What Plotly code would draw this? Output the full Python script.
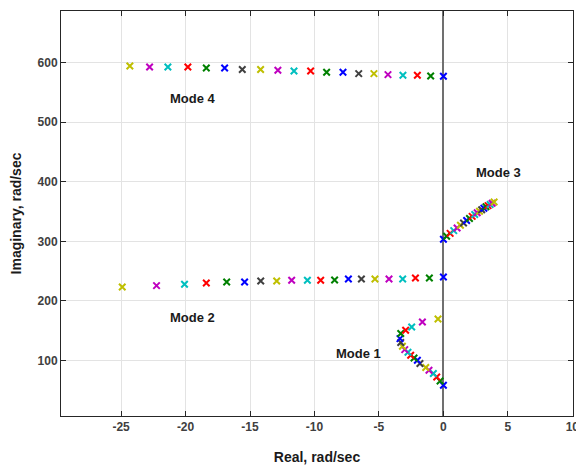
import plotly.graph_objects as go

# Mode data (index 0 = first sample, plotted with first colour)
mode1_re = [0.0, -0.26, -0.52, -0.78, -1.12, -1.37, -1.82, -2.02, -2.28, -2.54,
            -2.75, -3.00, -3.18, -3.31, -3.37, -3.31, -2.93, -2.46, -1.63, -0.42]
mode1_im = [58.6, 65.8, 72.5, 78.2, 83.7, 88.3, 95.0, 100.5, 104.4, 108.9,
            113.9, 118.4, 124.0, 130.2, 136.9, 145.3, 150.8, 156.4, 164.8, 169.8]

mode2_re = [0.0, -1.09, -2.17, -3.16, -4.22, -5.31, -6.36, -7.37, -8.44, -9.52,
            -10.55, -11.77, -12.93, -14.17, -15.42, -16.81, -18.39, -20.08, -22.25, -24.91]
mode2_im = [240.3, 238.6, 238.6, 236.9, 236.9, 236.9, 236.9, 236.9, 235.2, 234.7,
            234.7, 234.7, 233.6, 233.6, 231.9, 231.9, 230.2, 228.0, 225.8, 223.5]

mode3_re = [0.0, 0.25, 0.52, 0.80, 1.06, 1.32, 1.56, 1.80, 2.02, 2.23,
            2.43, 2.62, 2.80, 2.97, 3.14, 3.30, 3.46, 3.62, 3.78, 3.93]
mode3_im = [303.5, 308.5, 313.5, 318.0, 322.5, 327.0, 331.0, 335.0, 338.5, 342.0,
            345.0, 348.0, 350.5, 353.0, 355.5, 358.0, 360.0, 362.0, 364.0, 366.0]

mode4_re = [0.0, -0.99, -2.02, -3.14, -4.30, -5.39, -6.57, -7.79, -9.06, -10.30,
            -11.59, -12.84, -14.18, -15.60, -16.97, -18.39, -19.82, -21.37, -22.79, -24.32]
mode4_im = [577.0, 577.5, 578.7, 578.7, 579.9, 581.5, 581.5, 583.7, 583.7, 585.9,
            585.9, 587.1, 588.3, 588.3, 590.9, 590.9, 592.6, 592.6, 592.6, 594.3]

mode_labels = ["Mode 1", "Mode 2", "Mode 3", "Mode 4"]
label_re = [-6.59, -19.5, 4.25, -19.42]
label_im = [112, 171.5, 416.4, 540]

x_ticks = [-25, -20, -15, -10, -5, 0, 5, 10]
y_ticks = [100, 200, 300, 400, 500, 600]

colors = ["#0000FF", "#008000", "#FF0000", "#00BFBF", "#BF00BF", "#BFBF00", "#404040"]

fig = go.Figure()
for i in range(len(mode1_re)):
    c = colors[i % len(colors)]
    fig.add_trace(go.Scatter(
        x=[mode1_re[i], mode2_re[i], mode3_re[i], mode4_re[i]],
        y=[mode1_im[i], mode2_im[i], mode3_im[i], mode4_im[i]],
        mode="markers",
        marker=dict(symbol="x-thin", size=6.5, line=dict(color=c, width=2)),
        showlegend=False, hoverinfo="skip"))

for t, xr, yi in zip(mode_labels, label_re, label_im):
    fig.add_annotation(x=xr, y=yi, text=t, showarrow=False,
                       font=dict(family="Liberation Sans", size=13, color="#1a1a1a", weight="bold"))

axis_common = dict(showline=True, linecolor="#262626", linewidth=1, mirror="ticks",
                   ticks="inside", ticklen=5, tickcolor="#262626",
                   showgrid=True, gridcolor="#e3e3e3", gridwidth=1,
                   ticklabeloverflow="allow", automargin=False,
                   tickfont=dict(family="Liberation Sans", size=12, color="#404040", weight="bold"))

fig.update_layout(
    width=576, height=466,
    margin=dict(l=61, r=3, t=11, b=50),
    plot_bgcolor="white", paper_bgcolor="white",
    xaxis=dict(range=[-29.66, 10.05], tickvals=x_ticks, ticktext=[str(v) for v in x_ticks],
               zeroline=True, zerolinecolor="#707070", zerolinewidth=2,
               title=dict(text="Real, rad/sec", standoff=18,
                          font=dict(family="Liberation Sans", size=14, color="#1a1a1a", weight="bold")),
               **axis_common),
    yaxis=dict(range=[7, 686.6], tickvals=y_ticks, ticktext=[str(v) for v in y_ticks],
               zeroline=False,
               title=dict(text="Imaginary, rad/sec", standoff=12,
                          font=dict(family="Liberation Sans", size=14, color="#1a1a1a", weight="bold")),
               **axis_common),
)

fig.write_html("out.html")
